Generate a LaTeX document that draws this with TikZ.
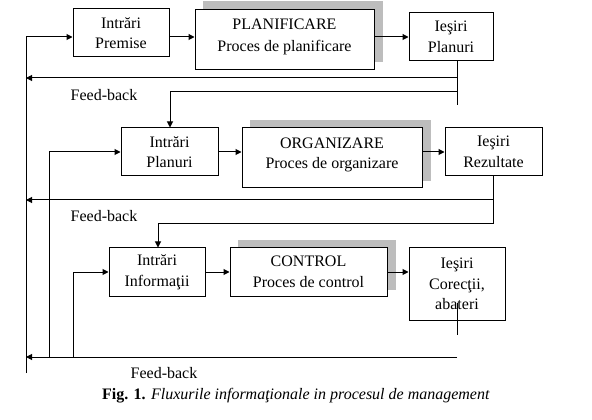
\documentclass[tikz,border=0pt]{standalone}
\usepackage{fontspec}
\setmainfont{Liberation Serif}
\usetikzlibrary{arrows.meta,backgrounds}
\begin{document}
\begin{tikzpicture}[x=0.75pt,y=-0.75pt,
  every node/.style={font=\fontsize{12}{15.5}\selectfont},
  box/.style={draw,fill=white,line width=0.75pt,align=center,inner sep=0pt},
  shade/.style={fill=black!26},
  conn/.style={line width=0.75pt},
  arr/.style={conn,-{Triangle[length=4.5pt,width=4.5pt]}},
  lbl/.style={inner sep=0pt}]
\useasboundingbox (0,0) rectangle (592,420);
% boxes
\node[box,minimum width=72pt,minimum height=36pt] (in1) at (121,33) {Intrări\\Premise};
\node[box,minimum width=134.25pt,minimum height=45pt,text depth=7pt] (plan) at (284.5,40) {PLANIFICARE\\[1.5pt]Proces de planificare};
\node[box,minimum width=63pt,minimum height=36pt] (out1) at (451,37) {Ieşiri\\Planuri};
\node[box,minimum width=72.75pt,minimum height=36pt] (in2) at (169.5,152) {Intrări\\Planuri};
\node[box,minimum width=135pt,minimum height=45pt,text depth=7pt] (org) at (332,158) {ORGANIZARE\\Proces de organizare};
\node[box,minimum width=72.75pt,minimum height=36pt] (out2) at (493.5,152) {Ieşiri\\Rezultate};
\node[box,minimum width=72pt,minimum height=36pt] (in3) at (157,272) {Intrări\\Informaţii};
\node[box,minimum width=117.75pt,minimum height=36pt] (ctrl) at (308.5,272) {CONTROL\\Proces de control};
\node[box,minimum width=72pt,minimum height=54pt] (out3) at (457,284) {Ieşiri\\Corecţii,\\abateri};
% shadows
\begin{scope}[on background layer]
\fill[shade] ([shift={(8,-8)}]plan.south west) rectangle ([shift={(8,-8)}]plan.north east);
\fill[shade] ([shift={(8,-7)}]org.south west) rectangle ([shift={(8,-7)}]org.north east);
\fill[shade] ([shift={(8,-7)}]ctrl.south west) rectangle ([shift={(8,-7)}]ctrl.north east);
\end{scope}
% coordinates
\coordinate (Ltop) at (26,37);
\coordinate (Lbot) at (26,373);
\coordinate (d1) at (457,105);
\coordinate (f1) at (457,78);
\coordinate (g1) at (457,92);
\coordinate (t1) at (170,92);
\coordinate (d2) at (493,224);
\coordinate (f2) at (493,200);
\coordinate (t2) at (158,224);
\coordinate (b2) at (49,357);
\coordinate (b3) at (73,357);
\coordinate (c3a) at (457,303);
\coordinate (c3b) at (457,335);
\coordinate (f3) at (457,357);
% row 1
\draw[arr] (Lbot) -- (Ltop) -- (Ltop -| in1.west);
\draw[arr] (Ltop -| in1.east) -- (Ltop -| plan.west);
\draw[arr] (Ltop -| plan.east) -- (Ltop -| out1.west);
\draw[conn] (d1 |- out1.south) -- (d1);
\draw[arr] (f1) -- (f1 -| Ltop);
\draw[arr] (g1) -- (t1) -- (t1 |- in2.north);
% row 2
\draw[arr] (b2) -- (b2 |- in2.west) -- (in2.west);
\draw[arr] (in2.east) -- (in2.east -| org.west);
\draw[arr] (in2.east -| org.east) -- (out2.west);
\draw[conn] (d2 |- out2.south) -- (d2);
\draw[arr] (f2) -- (f2 -| Ltop);
\draw[arr] (d2) -- (t2) -- (t2 |- in3.north);
% row 3
\draw[arr] (b3) -- (b3 |- in3.west) -- (in3.west);
\draw[arr] (in3.east) -- (ctrl.west);
\draw[arr] (ctrl.east) -- (ctrl.east -| out3.west);
\draw[conn] (c3a) -- (c3b);
\draw[arr] (f3) -- (f3 -| Ltop);
% labels
\node[lbl] (fb1) at (104,95) {Feed-back};
\node[lbl] (fb2) at (104,216) {Feed-back};
\node[lbl] (fb3) at (164,373) {Feed-back};
\node[lbl] (cap) at (296,396) {\textbf{Fig. 1.} \textit{Fluxurile informaţionale in procesul de management}};
\end{tikzpicture}
\end{document}
